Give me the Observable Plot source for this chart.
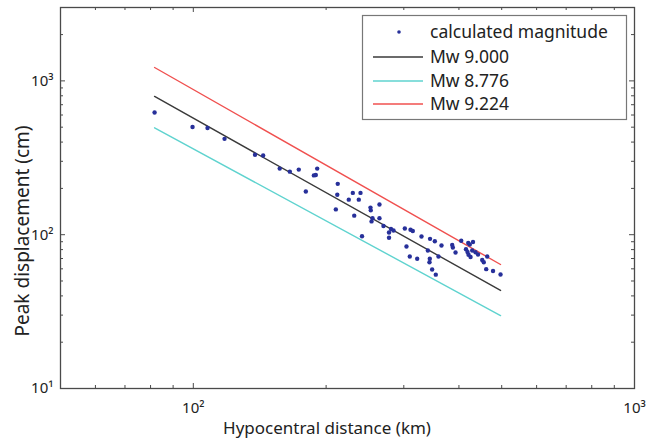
<!DOCTYPE html>
<html><head><meta charset="utf-8">
<script src="https://cdn.jsdelivr.net/npm/d3@7"></script>
<script src="https://cdn.jsdelivr.net/npm/@observablehq/plot@0.6"></script>
<style>
body{margin:0;background:#fff}
#chart svg{font-family:"Noto Sans",sans-serif;}
</style>
</head><body><div id="chart"></div>
<script>
// Scatter: hypocentral distance (km) and peak displacement (cm)
const distance = [81.7, 99.6, 107.7, 117.7, 138.0, 144.0, 157.0, 165.5, 173.4, 190.9, 187.6, 189.5, 179.9, 212.5, 212.0, 225.1, 229.9, 239.3, 237.2, 210.4, 231.6, 252.1, 252.5, 264.2, 254.8, 253.5, 264.2, 241.2, 269.8, 280.6, 284.3, 277.7, 277.7, 301.6, 310.7, 314.4, 329.0, 344.0, 352.7, 365.2, 304.2, 309.5, 321.7, 340.1, 343.6, 343.0, 359.5, 347.8, 354.5, 386.2, 387.5, 393.0, 404.8, 419.9, 423.3, 430.5, 415.0, 418.3, 420.5, 425.0, 428.7, 436.2, 441.9, 451.7, 455.4, 463.6, 461.2, 477.9, 497.0];
const displacement = [623, 501, 494, 420, 331, 327, 269, 257, 265, 269, 243, 244.5, 191, 214, 182, 169, 187, 187, 169, 146, 133, 150, 144, 157, 128, 122, 128, 97.8, 114, 109, 106.5, 103.3, 95.5, 109.7, 107.6, 105.7, 97.3, 94.0, 90.7, 85.1, 83.8, 72.2, 69.7, 78.9, 69.7, 66.2, 72.2, 59.4, 55.0, 85.7, 82.6, 76.6, 91.3, 88.3, 86.4, 89.6, 80.5, 77.2, 74.0, 71.6, 78.9, 76.9, 74.3, 68.5, 66.2, 72.2, 59.7, 58.1, 55.1];

// Scaling-law lines (straight in log-log): endpoints
const lineDistance = [81.7, 497];
const mw9000 = [792, 43.4];
const mw8776 = [495.5, 29.8];
const mw9224 = [1222, 64.0];

const seriesNames = ["calculated magnitude", "Mw 9.000", "Mw 8.776", "Mw 9.224"];
const seriesColors = ["#27309a", "#3a3a3a", "#5fd3cf", "#f0504f"];

const xMajorTicks = [100, 1000];
const xMinorTicks = [60, 70, 80, 90, 200, 300, 400, 500, 600, 700, 800, 900];
const yMajorTicks = [10, 100, 1000];
const yMinorTicks = [20, 30, 40, 50, 60, 70, 80, 90, 200, 300, 400, 500, 600, 700, 800, 900, 2000];
const xTickLabels = ["10²", "10³"];
const yTickLabels = ["10¹", "10²", "10³"];
const xLabel = "Hypocentral distance (km)";
const yLabel = "Peak displacement (cm)";

const W = 646, H = 442;
const mL = 60, mR = 12, mT = 7, mB = 54;
const pw = W - mL - mR, ph = H - mT - mB;

const points = distance.map((d, i) => ({d, v: displacement[i]}));
const lines = [
  {name: seriesNames[1], vals: mw9000, color: seriesColors[1]},
  {name: seriesNames[2], vals: mw8776, color: seriesColors[2]},
  {name: seriesNames[3], vals: mw9224, color: seriesColors[3]}
].flatMap(s => lineDistance.map((d, i) => ({name: s.name, d, v: s.vals[i], color: s.color})));

const axisColor = "#4a4a4a";
const fmtX = new Map(xMajorTicks.map((t, i) => [t, xTickLabels[i]]));
const fmtY = new Map(yMajorTicks.map((t, i) => [t, yTickLabels[i]]));

const plot = Plot.plot({
  width: W, height: H,
  marginLeft: mL, marginRight: mR, marginTop: mT, marginBottom: mB,
  style: {background: "#fff", fontFamily: "'Noto Sans', sans-serif"},
  x: {type: "log", domain: [50, 1000], axis: null},
  y: {type: "log", domain: [10, 3000], axis: null},
  marks: [
    // ticks (inward, all four sides)
    Plot.tickX(xMajorTicks, {x: d => d, insetTop: ph - 5, stroke: axisColor, strokeWidth: 1}),
    Plot.tickX(xMajorTicks, {x: d => d, insetBottom: ph - 5, stroke: axisColor, strokeWidth: 1}),
    Plot.tickX(xMinorTicks, {x: d => d, insetTop: ph - 3, stroke: axisColor, strokeWidth: 1}),
    Plot.tickX(xMinorTicks, {x: d => d, insetBottom: ph - 3, stroke: axisColor, strokeWidth: 1}),
    Plot.tickY(yMajorTicks, {y: d => d, insetLeft: 0, insetRight: pw - 5, stroke: axisColor, strokeWidth: 1}),
    Plot.tickY(yMajorTicks, {y: d => d, insetLeft: pw - 5, stroke: axisColor, strokeWidth: 1}),
    Plot.tickY(yMinorTicks, {y: d => d, insetRight: pw - 3, stroke: axisColor, strokeWidth: 1}),
    Plot.tickY(yMinorTicks, {y: d => d, insetLeft: pw - 3, stroke: axisColor, strokeWidth: 1}),
    // tick labels
    Plot.text(xMajorTicks, {x: d => d, frameAnchor: "bottom", dy: 24, text: d => fmtX.get(d), fontSize: 15, fill: "#222"}),
    Plot.text(yMajorTicks, {y: d => d, frameAnchor: "left", dx: -7, textAnchor: "end", text: d => fmtY.get(d), fontSize: 15, fill: "#222"}),
    // lines
    Plot.line(lines, {x: "d", y: "v", z: "name", stroke: "color", strokeWidth: 1.4}),
    // points
    Plot.dot(points, {x: "d", y: "v", r: 2.2, fill: seriesColors[0], stroke: "none"}),
    Plot.frame({stroke: axisColor, strokeWidth: 1.3})
  ]
});

const svg = d3.select(plot);
// axis titles
svg.append("text").attr("x", 327).attr("y", 434).attr("text-anchor", "middle")
  .attr("font-size", 17).attr("fill", "#222").text(xLabel);
svg.append("text").attr("transform", "translate(28.5,231) rotate(-90)").attr("text-anchor", "middle")
  .attr("font-size", 19).attr("fill", "#222").text(yLabel);

// legend
const lg = svg.append("g").attr("text-anchor", "start");
lg.append("rect").attr("x", 362.5).attr("y", 15.5).attr("width", 264).attr("height", 104)
  .attr("fill", "#fff").attr("stroke", "#777").attr("stroke-width", 1.2);
const rowY = [32, 57, 81, 104];
seriesNames.forEach((name, i) => {
  if (i === 0) {
    lg.append("circle").attr("cx", 399).attr("cy", rowY[i]).attr("r", 1.8).attr("fill", seriesColors[0]);
  } else {
    lg.append("line").attr("x1", 373).attr("x2", 423).attr("y1", rowY[i]).attr("y2", rowY[i])
      .attr("stroke", seriesColors[i]).attr("stroke-width", 1.4);
  }
  lg.append("text").attr("x", 430).attr("y", rowY[i]).attr("dy", "0.35em").attr("text-anchor", "start")
    .attr("font-size", 17.5).attr("fill", "#222").text(name);
});

document.getElementById("chart").appendChild(plot);
</script>
</body></html>
